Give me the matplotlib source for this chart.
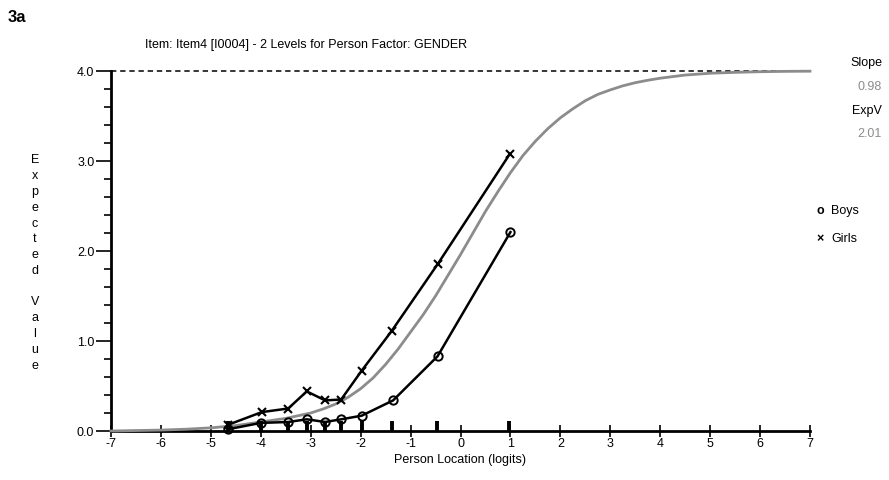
import matplotlib
matplotlib.use("Agg")
import matplotlib.pyplot as plt
from matplotlib.ticker import MultipleLocator, FixedLocator, FormatStrFormatter

plt.rcParams['font.family'] = ['Liberation Sans', 'DejaVu Sans']
plt.rcParams['axes.unicode_minus'] = False

# Model expected-value curve (ICC) as read along the person axis
curve_x = [-7.0, -6.5, -6.0, -5.5, -5.0, -4.5, -4.0, -3.5, -3.0, -2.75, -2.5, -2.25,
           -2.0, -1.75, -1.5, -1.25, -1.0, -0.75, -0.5, -0.25, 0.0, 0.25, 0.5, 0.75,
           1.0, 1.25, 1.5, 1.75, 2.0, 2.25, 2.5, 2.75, 3.0, 3.25, 3.5, 3.75, 4.0,
           4.5, 5.0, 5.5, 6.0, 6.5, 7.0]
curve_y = [0.00, 0.005, 0.01, 0.02, 0.035, 0.06, 0.10, 0.14, 0.20, 0.245, 0.30, 0.375,
           0.47, 0.59, 0.74, 0.91, 1.10, 1.29, 1.50, 1.73, 1.96, 2.20, 2.44, 2.66,
           2.87, 3.06, 3.22, 3.36, 3.48, 3.58, 3.67, 3.74, 3.79, 3.835, 3.87, 3.897, 3.92,
           3.955, 3.975, 3.985, 3.992, 3.996, 3.998]

# Observed class-interval means by gender
boys_x = [-4.65, -4.0, -3.45, -3.08, -2.71, -2.39, -1.98, -1.35, -0.46, 1.0]
boys_y = [0.02, 0.09, 0.10, 0.13, 0.10, 0.13, 0.17, 0.34, 0.83, 2.21]
girls_x = [-4.65, -3.98, -3.45, -3.08, -2.71, -2.39, -1.98, -1.38, -0.45, 0.99]
girls_y = [0.07, 0.21, 0.25, 0.44, 0.34, 0.35, 0.67, 1.11, 1.86, 3.08]

# Class-interval locations marked on the person axis
interval_x = [-4.65, -4.0, -3.45, -3.08, -2.71, -2.39, -1.98, -1.38, -0.47, 0.97]

max_score = 4.0
slope_value = "0.98"
expv_value = "2.01"
title = "Item: Item4 [I0004] - 2 Levels for Person Factor: GENDER"
panel_label = "3a"
x_label = "Person Location (logits)"
y_label = "Expected Value"

FS = 9

W, H = 889, 481
fig = plt.figure(figsize=(W / 100, H / 100), dpi=100)
ax = fig.add_axes([111 / W, (H - 432) / H, 699 / W, 360 / H])

ax.set_xlim(-7, 7)
ax.set_ylim(0, 4)

# upper limit of the expected value
ax.plot([-7, 7], [max_score, max_score], color='black', lw=1.1,
        linestyle=(0, (3.5, 2.5)), zorder=2, clip_on=False)

ax.plot(curve_x, curve_y, color='#8c8c8c', lw=2.0, zorder=3, clip_on=False,
        solid_joinstyle='round')

ax.plot(girls_x, girls_y, color='black', lw=1.8, marker='x', markersize=6,
        markeredgewidth=1.5, zorder=5, clip_on=False)
ax.plot(boys_x, boys_y, color='black', lw=1.8, marker='o', markersize=6,
        markerfacecolor='none', markeredgewidth=1.4, zorder=5, clip_on=False)

ax.vlines(interval_x, 0, 0.11, color='black', lw=2.8, zorder=4)

for s in ('top', 'right'):
    ax.spines[s].set_visible(False)
for s in ('left', 'bottom'):
    ax.spines[s].set_linewidth(2.0)
    ax.spines[s].set_color('black')

ax.xaxis.set_major_locator(FixedLocator(range(-7, 8)))
ax.tick_params(axis='x', direction='inout', length=8, width=1.2, pad=0,
               labelsize=FS)

ax.yaxis.set_major_locator(MultipleLocator(1.0))
ax.yaxis.set_minor_locator(MultipleLocator(0.2))
ax.yaxis.set_major_formatter(FormatStrFormatter('%.1f'))
ax.tick_params(axis='y', which='major', direction='out', length=11, width=1.2,
               pad=1, labelsize=FS)
ax.tick_params(axis='y', which='minor', direction='out', length=5, width=1.2)

ax.set_xlabel(x_label, fontsize=FS, labelpad=3)

fig.text(35 / W, 1 - 263 / H, "\n".join(y_label), ha='center', va='center',
         fontsize=FS, linespacing=1.42)

fig.text(145 / W, 1 - 45 / H, title, ha='left', va='center', fontsize=FS)
fig.text(8 / W, 1 - 18 / H, panel_label, ha='left', va='center',
         fontsize=12, fontweight='bold')

fig.text(882 / W, 1 - 63 / H, "Slope", ha='right', va='center', fontsize=FS)
fig.text(882 / W, 1 - 87 / H, slope_value, ha='right', va='center',
         fontsize=FS, color='#8c8c8c')
fig.text(882 / W, 1 - 111 / H, "ExpV", ha='right', va='center', fontsize=FS)
fig.text(882 / W, 1 - 134 / H, expv_value, ha='right', va='center',
         fontsize=FS, color='#8c8c8c')

fig.text(820 / W, 1 - 211 / H, "o", ha='center', va='center', fontsize=FS,
         fontweight='bold')
fig.text(831 / W, 1 - 211 / H, "Boys", ha='left', va='center', fontsize=FS)
fig.text(820 / W, 1 - 239 / H, "\u00d7", ha='center', va='center', fontsize=FS,
         fontweight='bold')
fig.text(831 / W, 1 - 239 / H, "Girls", ha='left', va='center', fontsize=FS)

fig.savefig("out.png", dpi=100)
